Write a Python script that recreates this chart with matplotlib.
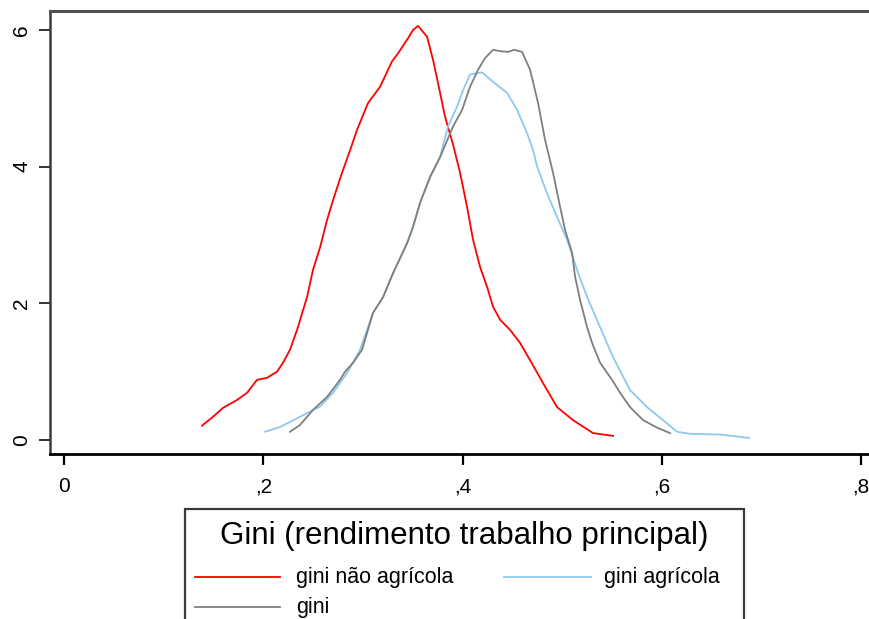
import matplotlib
matplotlib.use("Agg")
import matplotlib.pyplot as plt
from matplotlib.lines import Line2D
from matplotlib.patches import Rectangle

plt.rcParams['font.family'] = ['Liberation Sans', 'DejaVu Sans']

# ---- data ----
red_x = [0.1385, 0.1496, 0.1596, 0.1736, 0.1837, 0.1937, 0.2038, 0.2138, 0.2198, 0.2268,
         0.2339, 0.2439, 0.2499, 0.2570, 0.2640, 0.2700, 0.2790, 0.2871, 0.2941, 0.3051,
         0.3172, 0.3292, 0.3353, 0.3453, 0.3503, 0.3553, 0.3644, 0.3704, 0.3754, 0.3824,
         0.3905, 0.3975, 0.4045, 0.4105, 0.4176, 0.4246, 0.4306, 0.4376, 0.4477, 0.4577,
         0.4677, 0.4808, 0.4949, 0.5109, 0.5310, 0.5511]
red_y = [0.21, 0.34, 0.47, 0.585, 0.69, 0.88, 0.91, 1.00, 1.13, 1.32,
         1.61, 2.09, 2.49, 2.82, 3.22, 3.51, 3.91, 4.24, 4.54, 4.93,
         5.17, 5.54, 5.66, 5.88, 6.00, 6.06, 5.90, 5.56, 5.22, 4.73,
         4.32, 3.91, 3.41, 2.93, 2.53, 2.24, 1.95, 1.76, 1.61, 1.42,
         1.17, 0.83, 0.48, 0.29, 0.10, 0.06]

gray_x = [0.2268, 0.2369, 0.2499, 0.2640, 0.2770, 0.2821, 0.2901, 0.2991, 0.3101, 0.3202,
          0.3302, 0.3443, 0.3503, 0.3573, 0.3674, 0.3774, 0.3905, 0.3995, 0.4075, 0.4156,
          0.4226, 0.4306, 0.4376, 0.4457, 0.4517, 0.4597, 0.4677, 0.4758, 0.4828, 0.4908,
          0.4979, 0.5029, 0.5099, 0.5129, 0.5179, 0.5250, 0.5300, 0.5380, 0.5500, 0.5581,
          0.5681, 0.5812, 0.5952, 0.6083]
gray_y = [0.12, 0.22, 0.44, 0.63, 0.88, 1.00, 1.13, 1.32, 1.86, 2.09,
          2.44, 2.88, 3.12, 3.47, 3.85, 4.14, 4.59, 4.83, 5.17, 5.42,
          5.59, 5.71, 5.69, 5.68, 5.71, 5.68, 5.42, 4.93, 4.39, 3.91,
          3.41, 3.07, 2.74, 2.39, 2.05, 1.65, 1.42, 1.13, 0.88, 0.69,
          0.48, 0.29, 0.18, 0.10]

blue_x = [0.2018, 0.2168, 0.2369, 0.2570, 0.2700, 0.2841, 0.2971, 0.3101, 0.3202, 0.3302,
          0.3443, 0.3503, 0.3573, 0.3674, 0.3774, 0.3854, 0.3945, 0.4005, 0.4075, 0.4196,
          0.4306, 0.4447, 0.4547, 0.4647, 0.4708, 0.4748, 0.4848, 0.4949, 0.5049, 0.5149,
          0.5250, 0.5380, 0.5511, 0.5681, 0.5852, 0.6012, 0.6153, 0.6283, 0.6585, 0.6876]
blue_y = [0.12, 0.19, 0.34, 0.49, 0.69, 0.98, 1.32, 1.86, 2.09, 2.44,
          2.88, 3.12, 3.47, 3.85, 4.14, 4.59, 4.88, 5.12, 5.35, 5.38,
          5.24, 5.08, 4.83, 4.49, 4.24, 4.00, 3.61, 3.26, 2.93, 2.49,
          2.09, 1.65, 1.21, 0.73, 0.48, 0.29, 0.12, 0.09, 0.08, 0.03]

x_ticks = [0, 0.2, 0.4, 0.6, 0.8]
x_ticklabels = ["0", ",2", ",4", ",6", ",8"]
y_ticks = [0, 2, 4, 6]
y_ticklabels = ["0", "2", "4", "6"]

legend_title = "Gini (rendimento trabalho principal)"
series_labels = ["gini não agrícola", "gini agrícola", "gini"]
series_colors = ["#ff0000", "#8ec8ee", "#7f7f7f"]

# ---- figure ----
W, H = 870, 619
fig = plt.figure(figsize=(W / 100, H / 100), dpi=100)
fig.patch.set_facecolor("white")

left_px, right_px, top_px, bottom_px = 50.5, 876, 11, 453.5
ax = fig.add_axes([left_px / W, 1 - bottom_px / H, (right_px - left_px) / W, (bottom_px - top_px) / H])

ax.plot(red_x, red_y, color=series_colors[0], lw=1.3)
ax.plot(blue_x, blue_y, color=series_colors[1], lw=1.3)
ax.plot(gray_x, gray_y, color=series_colors[2], lw=1.3)

ax.set_xlim(-0.01355, 0.8149)
ax.set_ylim(-0.198, 6.278)

ax.set_xticks(x_ticks)
ax.set_xticklabels(x_ticklabels)
ax.set_yticks(y_ticks)
ax.set_yticklabels(y_ticklabels, rotation=90, va="center")

ax.tick_params(axis="x", length=8, width=1.6, color="black", labelsize=15, pad=9)
ax.tick_params(axis="y", length=8, width=1.4, color="#333333", labelsize=15, pad=6)

ax.spines["left"].set_color("#3a3a3a")
ax.spines["left"].set_linewidth(1.8)
ax.spines["bottom"].set_color("black")
ax.spines["bottom"].set_linewidth(2.0)
ax.spines["top"].set_color("#505050")
ax.spines["top"].set_linewidth(2.2)
ax.spines["right"].set_visible(False)

# ---- legend box (Stata style, clipped at bottom) ----
def fx(px):
    return px / W

def fy(py):
    return 1 - py / H

box = Rectangle((fx(185), fy(640)), fx(744) - fx(185), fy(509) - fy(640),
                transform=fig.transFigure, fill=False, edgecolor="#3a3a3a", lw=1.6)
fig.add_artist(box)

fig.text(fx(464), fy(536), legend_title, ha="center", va="center", fontsize=22.5, color="black")

entries = [(195, 280, 296, 577), (504, 591, 604, 577), (195, 280, 296, 607)]
for (x0, x1, tx, yy), lab, col in zip(entries, series_labels, series_colors):
    fig.add_artist(Line2D([fx(x0), fx(x1)], [fy(yy), fy(yy)], transform=fig.transFigure,
                          color=col, lw=1.3))
    fig.text(fx(tx), fy(yy), lab, ha="left", va="center", fontsize=15.5, color="black")

fig.savefig("out.png", dpi=100, facecolor="white")
